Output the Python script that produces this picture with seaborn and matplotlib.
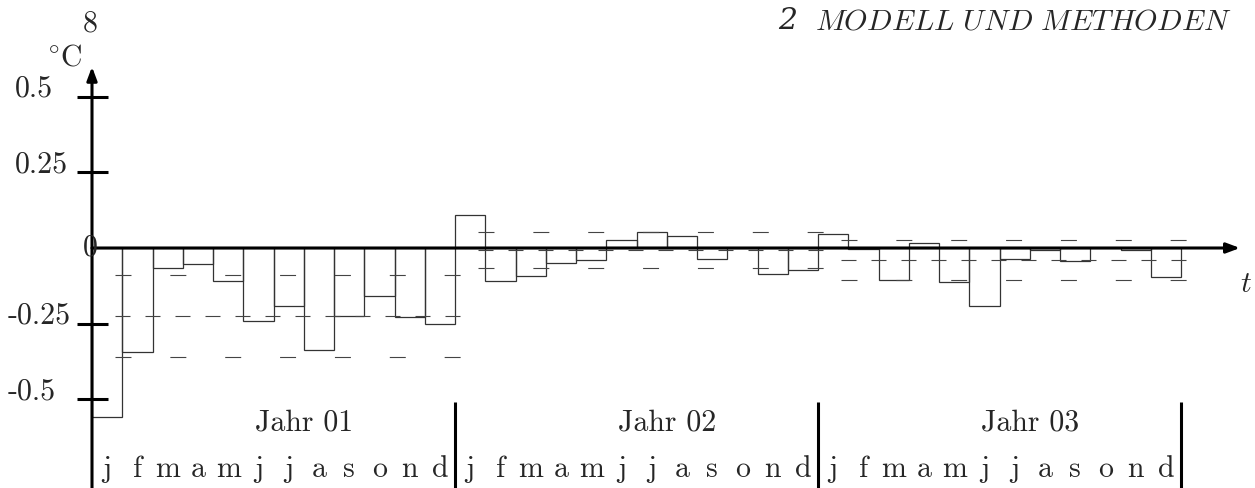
import numpy as np
import pandas as pd
import matplotlib
matplotlib.use("Agg")
import matplotlib.pyplot as plt
import seaborn as sns

# monthly temperature deviation, three years
months = ['j', 'f', 'm', 'a', 'm', 'j', 'j', 'a', 's', 'o', 'n', 'd']
years = ['Jahr 01', 'Jahr 02', 'Jahr 03']
year1 = [-0.560, -0.344, -0.067, -0.054, -0.109, -0.243,
         -0.191, -0.338, -0.225, -0.160, -0.227, -0.252]
year2 = [0.110, -0.110, -0.092, -0.050, -0.041, 0.028,
         0.052, 0.040, -0.037, 0.000, -0.087, -0.073]
year3 = [0.047, -0.003, -0.107, 0.015, -0.112, -0.192,
         -0.035, -0.008, -0.044, 0.000, -0.005, -0.095]
# yearly mean and mean +/- std (dashed lines)
mean_level = [-0.224, -0.008, -0.041]
upper_level = [-0.091, 0.052, 0.025]
lower_level = [-0.360, -0.067, -0.107]
yticks = [0.5, 0.25, -0.25, -0.5]
ytick_labels = ['0.5', '0.25', '-0.25', '-0.5']

sns.set_style("white")
plt.rcParams['font.family'] = ['cmr10']
plt.rcParams['mathtext.fontset'] = 'cm'
plt.rcParams['lines.scale_dashes'] = False
plt.rcParams['axes.formatter.use_mathtext'] = True

W, H = 1255, 488
fig = plt.figure(figsize=(W / 100, H / 100), dpi=100)
ax = fig.add_axes([0, 0, 1, 1])

values = year1 + year2 + year3
df = pd.DataFrame({'month': np.arange(len(values)) + 0.5, 'dev': values})

# dashed reference lines per year
for k in range(3):
    x0, x1 = 12 * k + 0.75, 12 * k + 12.25
    ax.plot([x0, x1], [mean_level[k]] * 2, color='#444', lw=0.8, dashes=(10.8, 10.8))
    for lvl in (upper_level[k], lower_level[k]):
        ax.plot([x0, x1], [lvl] * 2, color='#444', lw=0.8, dashes=(11.5, 28))

sns.barplot(data=df, x='month', y='dev', native_scale=True, width=1, fill=False,
            color='#333333', linewidth=0.9, errorbar=None, ax=ax)

# pixel frame -> data limits (x: 30.25 px/month from x=92, y: 302 px/unit, zero at 248)
ax.set_xlim(-92 / 30.25, (W - 92) / 30.25)
ax.set_ylim(-(H - 248) / 302, 248 / 302)
ax.axis('off')
ybot = -(H - 248) / 302

# axes with arrows
arrow = dict(arrowstyle='-|>,head_length=0.8,head_width=0.3', lw=2.2, color='black',
             shrinkA=0, shrinkB=0, mutation_scale=10)
ax.annotate('', xy=(37.95, 0), xytext=(0, 0), arrowprops=arrow)
ax.annotate('', xy=(0, 0.60), xytext=(0, ybot), arrowprops=arrow)

# y ticks and labels
ax.hlines(yticks, -0.5, 0.53, color='black', lw=2.2)
for v, lab in zip(yticks, ytick_labels):
    xl = -2.78 if v < 0 else -2.55
    ax.text(xl, v, lab, ha='left', va='baseline', fontsize=21.5)
ax.text(-0.07, 0, '0', ha='center', va='center', fontsize=21.5)
ax.text(-1.5, 0.603, r'$^{\circ}$C', ha='left', va='baseline', fontsize=21.5)
ax.text(38.15, -0.146, r'$t$', ha='center', va='baseline', fontsize=21.5)

# year separators, year labels, month letters
ax.vlines([12, 24, 36], -0.51, ybot, color='black', lw=2.2)
for k, name in enumerate(years):
    ax.text(12 * k + 7, -0.603, name, ha='center', va='baseline', fontsize=21.5)
    for i, m in enumerate(months):
        ax.text(12 * k + i + 0.5, -0.758, m, ha='center', va='baseline', fontsize=21.5)

# page header
fig.text(90 / W, 1 - 32 / H, '8', ha='center', va='baseline', fontsize=21.5)
fig.text(788 / W, 1 - 29 / H, '2', ha='center', va='baseline', fontsize=21.5,
         family='DejaVu Serif', style='italic')
fig.text(1232 / W, 1 - 29 / H, r'$\mathit{MODELL\ UND\ METHODEN}$',
         ha='right', va='baseline', fontsize=21.5)

fig.savefig('out.png', dpi=100)
